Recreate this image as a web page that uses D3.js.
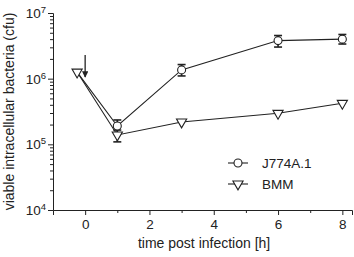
<!DOCTYPE html>
<html>
<head>
<meta charset="utf-8">
<script src="https://cdn.jsdelivr.net/npm/d3@7"></script>
<style>
  body { margin: 0; background: #fff; }
  text { font-family: "Liberation Sans", Arial, sans-serif; fill: #222; }
</style>
</head>
<body>
<div id="chart"></div>
<script>
// data
var seriesNames = ["J774A.1", "BMM"];
var j774Time = [-0.25, 1, 3, 6, 8];
var j774Value = [1.26e6, 1.9e5, 1.36e6, 3.8e6, 4.0e6];
var j774Low = [null, 1.49e5, 1.10e6, 3.03e6, 3.37e6];
var j774High = [null, 2.35e5, 1.64e6, 4.54e6, 4.71e6];
var bmmTime = [-0.25, 1, 3, 6, 8];
var bmmValue = [1.26e6, 1.39e5, 2.19e5, 2.97e5, 4.22e5];
var bmmLow = [null, 1.09e5, null, null, null];
var bmmHigh = [null, 1.65e5, null, null, null];
var xTicks = [0, 2, 4, 6, 8];
var xMinorTicks = [1, 3, 5, 7];
var yTicks = [1e4, 1e5, 1e6, 1e7];
var arrowTime = 0;
var arrowFrom = 2.3e6, arrowTo = 1.06e6;

var width = 354, height = 257;
var margin = {top: 13, right: 2, bottom: 47, left: 53};

var x = d3.scaleLinear().domain([-1, 8.3]).range([margin.left, width - margin.right]);
var y = d3.scaleLog().domain([1e4, 1e7]).range([height - margin.bottom, margin.top]);

var svg = d3.select("#chart").append("svg")
    .attr("width", width)
    .attr("height", height);

var ink = "#222";

// x axis
var xAxis = svg.append("g")
    .attr("transform", "translate(0," + (height - margin.bottom) + ")");
xAxis.call(d3.axisBottom(x).tickValues(xTicks).tickSize(5).tickPadding(4));
xAxis.append("g").call(d3.axisBottom(x).tickValues(xMinorTicks).tickSize(3).tickFormat(""))
    .select(".domain").remove();
xAxis.selectAll(".domain").attr("stroke", ink);
xAxis.selectAll(".tick line").attr("stroke", ink);
xAxis.selectAll(".tick text").attr("font-size", 13.5).attr("fill", ink)
    .attr("font-family", "Liberation Sans, Arial, sans-serif");

// y axis
var minor = [];
yTicks.slice(0, -1).forEach(function(d) {
  for (var k = 2; k < 10; k++) minor.push(d * k);
});
var yAxis = svg.append("g")
    .attr("transform", "translate(" + margin.left + ",0)");
yAxis.call(d3.axisLeft(y).tickValues(yTicks).tickSize(5).tickFormat(""));
yAxis.append("g").call(d3.axisLeft(y).tickValues(minor).tickSize(3).tickFormat(""))
    .select(".domain").remove();
yAxis.selectAll(".domain").attr("stroke", ink);
yAxis.selectAll(".tick line").attr("stroke", ink);

yTicks.forEach(function(d) {
  var t = yAxis.append("text")
      .attr("x", -7)
      .attr("y", y(d) + 5)
      .attr("text-anchor", "end")
      .attr("font-size", 13.5);
  t.append("tspan").text("10");
  t.append("tspan").attr("dy", -5).attr("font-size", 9.5).text(Math.round(Math.log10(d)));
});

// axis titles
svg.append("text")
    .attr("x", x(3.7))
    .attr("y", height - 9)
    .attr("text-anchor", "middle")
    .attr("font-size", 14)
    .text("time post infection [h]");

svg.append("text")
    .attr("transform", "translate(14," + ((margin.top + height - margin.bottom) / 2) + ") rotate(-90)")
    .attr("text-anchor", "middle")
    .attr("font-size", 14)
    .text("viable intracellular bacteria (cfu)");

// lines
var line = d3.line()
    .x(function(d) { return x(d.t); })
    .y(function(d) { return y(d.v); });

function rows(ts, vs, lo, hi) {
  return ts.map(function(t, i) { return {t: t, v: vs[i], lo: lo[i], hi: hi[i]}; });
}
var j774 = rows(j774Time, j774Value, j774Low, j774High);
var bmm = rows(bmmTime, bmmValue, bmmLow, bmmHigh);

[j774, bmm].forEach(function(data) {
  svg.append("path")
      .datum(data)
      .attr("fill", "none")
      .attr("stroke", ink)
      .attr("stroke-width", 1.1)
      .attr("d", line);

  // error bars
  var eb = svg.selectAll(null)
      .data(data.filter(function(d) { return d.lo != null; }))
      .enter().append("g")
      .attr("stroke", ink)
      .attr("stroke-width", 1.6);
  eb.append("line")
      .attr("x1", function(d) { return x(d.t); })
      .attr("x2", function(d) { return x(d.t); })
      .attr("y1", function(d) { return y(d.lo); })
      .attr("y2", function(d) { return y(d.hi); });
  eb.append("line")
      .attr("x1", function(d) { return x(d.t) - 4; })
      .attr("x2", function(d) { return x(d.t) + 4; })
      .attr("y1", function(d) { return y(d.lo); })
      .attr("y2", function(d) { return y(d.lo); });
  eb.append("line")
      .attr("x1", function(d) { return x(d.t) - 4; })
      .attr("x2", function(d) { return x(d.t) + 4; })
      .attr("y1", function(d) { return y(d.hi); })
      .attr("y2", function(d) { return y(d.hi); });
});

// markers
var circleSym = d3.symbol().type(d3.symbolCircle).size(50);
var triSym = d3.symbol().type(d3.symbolTriangle).size(45);

svg.selectAll(".circ")
    .data(j774.slice(1))
    .enter().append("path")
    .attr("class", "circ")
    .attr("d", circleSym)
    .attr("transform", function(d) { return "translate(" + x(d.t) + "," + y(d.v) + ")"; })
    .attr("fill", "#fff")
    .attr("stroke", ink)
    .attr("stroke-width", 1.1);

svg.selectAll(".tri")
    .data(bmm)
    .enter().append("path")
    .attr("class", "tri")
    .attr("d", triSym)
    .attr("transform", function(d) { return "translate(" + x(d.t) + "," + y(d.v) + ") rotate(180)"; })
    .attr("fill", "#fff")
    .attr("stroke", ink)
    .attr("stroke-width", 1.1);

// arrow marking the infection time
svg.append("defs").append("marker")
    .attr("id", "head")
    .attr("viewBox", "0 0 10 10")
    .attr("refX", 9).attr("refY", 5)
    .attr("markerWidth", 5).attr("markerHeight", 5)
    .attr("orient", "auto")
    .append("path").attr("d", "M0,0L10,5L0,10z").attr("fill", ink);
svg.append("line")
    .attr("x1", x(arrowTime)).attr("x2", x(arrowTime))
    .attr("y1", y(arrowFrom)).attr("y2", y(arrowTo))
    .attr("stroke", ink)
    .attr("stroke-width", 1.3)
    .attr("marker-end", "url(#head)");

// legend
var legend = svg.append("g").attr("transform", "translate(228,163)");
seriesNames.forEach(function(name, i) {
  var g = legend.append("g").attr("transform", "translate(0," + (i * 21) + ")");
  g.append("line").attr("x1", 0).attr("x2", 20).attr("stroke", ink).attr("stroke-width", 1.1);
  g.append("path")
      .attr("d", i === 0 ? circleSym : triSym)
      .attr("transform", "translate(10,0)" + (i === 0 ? "" : " rotate(180)"))
      .attr("fill", "#fff").attr("stroke", ink).attr("stroke-width", 1.1);
  g.append("text").attr("x", 34).attr("y", 5).attr("font-size", 13.5).text(name);
});
</script>
</body>
</html>
